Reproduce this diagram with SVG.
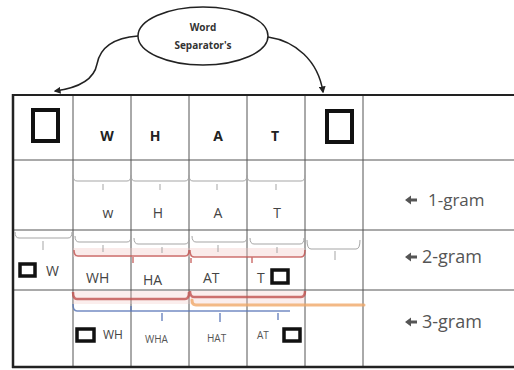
<svg xmlns="http://www.w3.org/2000/svg" width="514" height="370" viewBox="0 0 514 370">
  <defs>
    <marker id="head" viewBox="0 0 10 10" refX="8" refY="5" markerWidth="7" markerHeight="7" orient="auto-start-reverse" markerUnits="userSpaceOnUse">
      <path d="M0,0 L10,5 L0,10 z" fill="#222"/>
    </marker>
    <path id="labArrow" d="M0,0 l6,-4.5 v3 h6 v3 h-6 v3 z"/>
  </defs>
  <style>
    .grid { stroke: #555; stroke-width: 1; fill: none; }
    .border { stroke: #222; fill: none; }
    .sep { fill: none; stroke: #111; }
    .hdr { font-family: "Open Sans", "Liberation Sans", sans-serif; font-weight: bold; font-size: 14px; fill: #222; text-anchor: middle; }
    .uni { font-family: "Open Sans", "Liberation Sans", sans-serif; font-size: 14px; fill: #444; text-anchor: middle; }
    .big { font-family: "Open Sans", "Liberation Sans", sans-serif; font-size: 14px; fill: #444; }
    .small { font-family: "Open Sans", "Liberation Sans", sans-serif; font-size: 10px; fill: #555; }
    .lab { font-family: "Open Sans", "Liberation Sans", sans-serif; fill: #555; }
    .brace { fill: none; stroke: #a5a5a5; stroke-width: 1; }
    .red { fill: none; stroke: #c0504d; stroke-opacity: 0.8; }
    .orange { fill: none; stroke: #f0a868; stroke-opacity: 0.8; stroke-linecap: round; }
    .blue { fill: none; stroke: #5a78b8; stroke-opacity: 0.85; }
    .conn { fill: none; stroke: #222; stroke-width: 1.5; }
  </style>

  <rect width="514" height="370" fill="#fff"/>

  <!-- table -->
  <g id="table">
    <path class="grid" d="M13,160 H514 M13,230 H514 M13,290 H514"/>
    <path class="grid" d="M73,95 V367 M131,95 V367 M189,95 V367 M247,95 V367 M305,95 V367 M363,95 V367"/>
    <path class="border" stroke-width="2" d="M13,95 H514"/>
    <path class="border" stroke-width="2.5" d="M13,94 V368 M12,367 H514"/>
  </g>

  <!-- header row: characters with word separators -->
  <g id="header">
    <rect class="sep" x="33" y="110" width="25" height="31" stroke-width="4"/>
    <text class="hdr" x="107" y="141">W</text>
    <text class="hdr" x="155" y="141">H</text>
    <text class="hdr" x="218" y="141">A</text>
    <text class="hdr" x="275" y="141">T</text>
    <rect class="sep" x="327" y="111" width="25" height="31" stroke-width="4"/>
  </g>

  <!-- 1-gram row -->
  <g id="unigram">
    <path class="brace" d="M73,175 Q73,181 77,181 H127 Q131,181 131,175 M103,184 V190
                           M131,175 Q131,181 135,181 H185 Q189,181 189,175 M160,184 V190
                           M189,175 Q189,181 193,181 H243 Q247,181 247,175 M217,184 V190
                           M247,175 Q247,181 251,181 H301 Q305,181 305,175 M276,184 V190"/>
    <text class="uni" x="108" y="218">w</text>
    <text class="uni" x="158" y="218">H</text>
    <text class="uni" x="218" y="218">A</text>
    <text class="uni" x="277" y="218">T</text>
  </g>

  <!-- 2-gram row -->
  <g id="bigram">
    <rect x="73" y="248" width="232" height="9" fill="#f2c6c4" opacity="0.35"/>
    <path class="brace" d="M15,232 Q15,238 19,238 H68 Q72,238 72,232 M43,241 V250
                           M75,236 Q75,242 79,242 H127 Q131,242 131,236 M103,245 V252
                           M134,238 Q134,244 138,244 H185 Q189,244 189,238 M162,247 V253
                           M192,236 Q192,242 196,242 H243 Q247,242 247,236 M218,245 V252
                           M250,238 Q250,244 254,244 H300 Q304,244 304,238 M277,247 V253
                           M307,240 Q307,249 311,249 H356 Q360,249 360,240 M335,251 V260"/>
    <path class="red" stroke-width="1.5" d="M74,250 Q74,256 78,256 H185 Q189,256 189,250
                                            M190,250 Q190,257 194,257 H301 Q305,257 305,250
                                            M133,257 V263 M191,258 V263 M252,257 V263"/>
    <rect class="sep" x="20" y="264" width="15" height="12" stroke-width="3.5"/>
    <text class="big" x="46" y="276">W</text>
    <text class="big" x="86" y="283">WH</text>
    <text class="big" x="143" y="285">HA</text>
    <text class="big" x="203" y="283">AT</text>
    <text class="big" x="257" y="283">T</text>
    <rect class="sep" x="272" y="270" width="16" height="13" stroke-width="3.5"/>
  </g>

  <!-- 3-gram row -->
  <g id="trigram">
    <rect x="73" y="291" width="232" height="13" fill="#f2c6c4" opacity="0.3"/>
    <path class="red" stroke-width="2.5" d="M73,292 Q73,299 77,299 H185 Q189,299 189,292
                                            M190,291 Q190,297 194,297 H301 Q305,297 305,291"/>
    <path class="orange" stroke-width="3" d="M192,300 Q192,305 196,305 H364"/>
    <path class="blue" stroke-width="1.5" d="M73,304 Q73,311 77,311 H290 M131,306 V311
                                             M162,313 V321 M220,313 V322 M278,313 V320"/>
    <rect class="sep" x="77" y="329" width="17" height="12" stroke-width="3.5"/>
    <text class="big" x="103" y="339" style="font-size:12px">WH</text>
    <text class="small" x="145" y="343">WHA</text>
    <text class="small" x="207" y="342">HAT</text>
    <text class="small" x="257" y="339">AT</text>
    <rect class="sep" x="284" y="329" width="16" height="12" stroke-width="3.5"/>
  </g>

  <!-- row labels -->
  <g id="label-1gram">
    <use href="#labArrow" x="405" y="200" fill="#555"/>
    <text class="lab" x="428" y="206" style="font-size:17px">1-gram</text>
  </g>
  <g id="label-2gram">
    <use href="#labArrow" x="405" y="257" fill="#555"/>
    <text class="lab" x="422" y="263" style="font-size:18px">2-gram</text>
  </g>
  <g id="label-3gram">
    <use href="#labArrow" x="405" y="322" fill="#555"/>
    <text class="lab" x="422" y="328" style="font-size:18px">3-gram</text>
  </g>

  <!-- word separator callout -->
  <g id="separator-note">
    <ellipse cx="203" cy="36" rx="65" ry="29" fill="#fff" stroke="#222" stroke-width="1.5"/>
    <text x="203" y="31" text-anchor="middle" font-family="Open Sans, Liberation Sans, sans-serif" font-weight="bold" font-size="10" fill="#333">Word</text>
    <text x="203" y="49" text-anchor="middle" font-family="Open Sans, Liberation Sans, sans-serif" font-weight="bold" font-size="10" fill="#333">Separator's</text>
  </g>

  <g id="connectors">
    <path class="conn" marker-end="url(#head)" d="M138,36 C112,38 100,48 97,64 C94,80 78,88 55,91"/>
    <path class="conn" marker-end="url(#head)" d="M268,37 C295,41 318,60 323,92"/>
  </g>
</svg>
